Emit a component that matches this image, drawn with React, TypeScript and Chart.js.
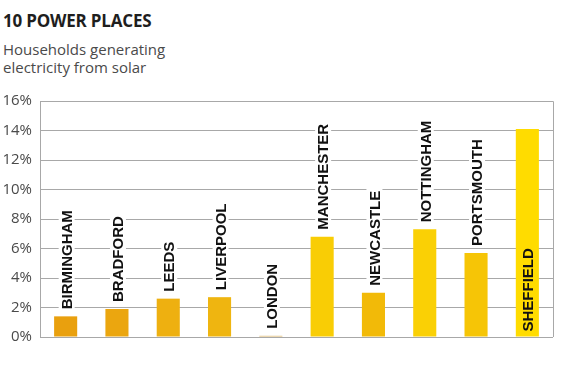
import React, { useEffect, useRef } from "react";
import { Chart, registerables } from "chart.js";

Chart.register(...registerables);

const cities = [
  "BIRMINGHAM",
  "BRADFORD",
  "LEEDS",
  "LIVERPOOL",
  "LONDON",
  "MANCHESTER",
  "NEWCASTLE",
  "NOTTINGHAM",
  "PORTSMOUTH",
  "SHEFFIELD",
];
const solarShare = [1.4, 1.9, 2.6, 2.7, 0.08, 6.8, 3.0, 7.3, 5.7, 14.1];
const barColors = [
  "#E9A00E",
  "#EBA60F",
  "#EEB010",
  "#EFB510",
  "#D9B060",
  "#F9CD05",
  "#F2BA08",
  "#FAD005",
  "#F6C506",
  "#FFDC00",
];
const yTicks = [0, 2, 4, 6, 8, 10, 12, 14, 16];

const TITLE = "10 POWER PLACES";
const SUBTITLE_LINES = ["Households generating", "electricity from solar"];

const LABEL_FONT = "bold 15px 'Liberation Sans', Arial, sans-serif";

const plotBorder = {
  id: "plotBorder",
  beforeDatasetsDraw(chart: any) {
    const { ctx, chartArea } = chart;
    ctx.save();
    ctx.strokeStyle = "#a8a8a8";
    ctx.lineWidth = 1;
    ctx.beginPath();
    ctx.moveTo(chartArea.left, chartArea.top + 0.5);
    ctx.lineTo(chartArea.right + 0.5, chartArea.top + 0.5);
    ctx.lineTo(chartArea.right + 0.5, chartArea.bottom);
    ctx.stroke();
    ctx.restore();
  },
};

const barLabels = {
  id: "barLabels",
  afterDatasetsDraw(chart: any) {
    const { ctx, chartArea } = chart;
    const meta = chart.getDatasetMeta(0);
    ctx.save();
    ctx.font = LABEL_FONT;
    meta.data.forEach((bar: any, i: number) => {
      const text = cities[i];
      const w = ctx.measureText(text).width;
      const gap = 7;
      let startY = bar.y - gap;
      let inside = false;
      if (startY - w < chartArea.top + 4) {
        inside = true;
        startY = bar.base - 5;
      }
      ctx.save();
      ctx.translate(bar.x + 1, startY);
      ctx.rotate(-Math.PI / 2);
      if (!inside) {
        ctx.fillStyle = "#ffffff";
        ctx.fillRect(-2, -8, w + 4, 16);
      }
      ctx.fillStyle = "#111111";
      ctx.textAlign = "left";
      ctx.textBaseline = "middle";
      ctx.fillText(text, 0, 1);
      ctx.restore();
    });
    ctx.restore();
  },
};

export default function App() {
  const canvasRef = useRef<HTMLCanvasElement | null>(null);

  useEffect(() => {
    if (!canvasRef.current) return;
    const chart = new Chart(canvasRef.current, {
      type: "bar",
      data: {
        labels: cities,
        datasets: [
          {
            data: solarShare,
            backgroundColor: barColors,
            borderWidth: 0,
            barPercentage: 0.45,
            categoryPercentage: 1,
          },
        ],
      },
      options: {
        animation: false,
        responsive: false,
        layout: { padding: { top: 101, bottom: 34, left: 0, right: 11 } },
        plugins: {
          legend: { display: false },
          tooltip: { enabled: false },
          title: { display: false },
        },
        scales: {
          x: {
            display: false,
          },
          y: {
            min: 0,
            max: 16,
            afterBuildTicks(scale: any) {
              scale.ticks = yTicks.map((v) => ({ value: v }));
            },
            afterFit(scale: any) {
              scale.width = 40;
            },
            ticks: {
              padding: 8,
              color: "#4a4a4a",
              font: { family: "'Open Sans', sans-serif", size: 15 },
              callback: (v: any) => `${v}%`,
            },
            grid: {
              color: "#a8a8a8",
              lineWidth: 1,
              drawTicks: false,
            },
            border: { display: true, color: "#a8a8a8", width: 1 },
          },
        },
      },
      plugins: [plotBorder, barLabels],
    });
    return () => chart.destroy();
  }, []);

  return (
    <div
      style={{
        position: "absolute",
        left: 0,
        top: 0,
        width: 564,
        height: 371,
        background: "#ffffff",
        overflow: "hidden",
      }}
    >
      <div
        style={{
          position: "absolute",
          left: 3,
          top: 12,
          fontFamily: "'Open Sans', sans-serif",
          fontWeight: 700,
          fontSize: 17,
          lineHeight: "17px",
          color: "#1e1e1e",
          letterSpacing: -0.2,
          whiteSpace: "nowrap",
        }}
      >
        {TITLE}
      </div>
      <div
        style={{
          position: "absolute",
          left: 3,
          top: 39.5,
          fontFamily: "'Open Sans', sans-serif",
          fontSize: 15,
          lineHeight: "18px",
          color: "#4a4a4a",
          whiteSpace: "nowrap",
        }}
      >
        {SUBTITLE_LINES.map((l) => (
          <div key={l}>{l}</div>
        ))}
      </div>
      <canvas
        ref={canvasRef}
        width={564}
        height={371}
        style={{ position: "absolute", left: 0, top: 0 }}
      />
    </div>
  );
}
